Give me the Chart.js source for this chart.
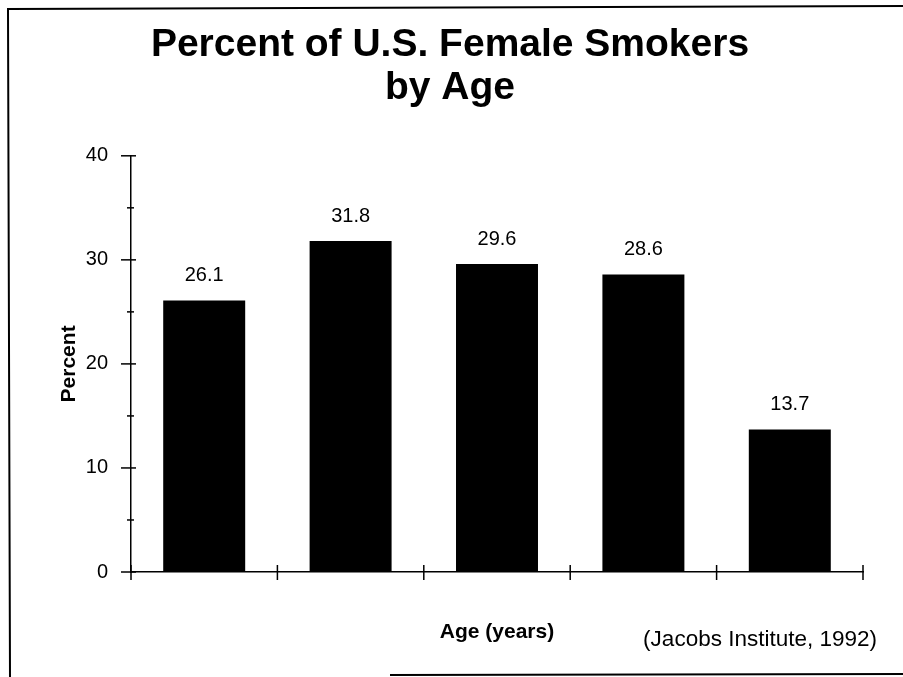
<!DOCTYPE html>
<html>
<head>
<meta charset="utf-8">
<title>Percent of U.S. Female Smokers by Age</title>
<script src="https://cdn.jsdelivr.net/npm/chart.js@4.4.1/dist/chart.umd.min.js"></script>
<style>
    body { margin: 0; background: #fff; }
    #wrap { width: 903px; height: 677px; }
</style>
</head>
<body>
<div id="wrap"><canvas id="myChart" width="903" height="677"></canvas></div>
<script>
const titleLines = ['Percent of U.S. Female Smokers', 'by Age'];
const ageGroups = ['1', '2', '3', '4', '5'];
const percentValues = [26.1, 31.8, 29.6, 28.6, 13.7];
const yMin = 0;
const yMax = 40;
const yStep = 5;
const yLabelStep = 10;
const yTitle = 'Percent';
const xTitle = 'Age (years)';
const sourceNote = '(Jacobs Institute, 1992)';

const FONT = "'Liberation Sans', Arial, Helvetica, sans-serif";

// ticks that cross the axis lines, plus value labels, note and frame
const extrasPlugin = {
    id: 'extras',
    afterDraw(chart) {
        const ctx = chart.ctx;
        const x = chart.scales.x;
        const y = chart.scales.y;
        const area = chart.chartArea;
        ctx.save();
        ctx.strokeStyle = '#000';
        ctx.lineWidth = 1.5;

        // y ticks
        y.ticks.forEach(t => {
            const py = y.getPixelForValue(t.value);
            const major = t.value % yLabelStep === 0;
            ctx.beginPath();
            ctx.moveTo(area.left - (major ? 10 : 4), py);
            ctx.lineTo(area.left + (major ? 5 : 3), py);
            ctx.stroke();
        });

        // x ticks between categories
        const n = ageGroups.length;
        for (let i = 0; i <= n; i++) {
            const px = x.left + i * (x.width / n);
            ctx.beginPath();
            ctx.moveTo(px, area.bottom - 7);
            ctx.lineTo(px, area.bottom + 8);
            ctx.stroke();
        }

        // value labels
        ctx.fillStyle = '#000';
        ctx.font = '20px ' + FONT;
        ctx.textAlign = 'center';
        ctx.textBaseline = 'middle';
        chart.getDatasetMeta(0).data.forEach((bar, i) => {
            ctx.fillText(percentValues[i].toFixed(1), bar.x, bar.y - 25);
        });

        // source note
        ctx.font = '22.5px ' + FONT;
        ctx.textAlign = 'right';
        ctx.fillText(sourceNote, 877, 640);

        // frame
        ctx.lineWidth = 2;
        ctx.beginPath();
        ctx.moveTo(10, 677);
        ctx.lineTo(8, 9);
        ctx.lineTo(903, 6);
        ctx.stroke();
        ctx.beginPath();
        ctx.moveTo(390, 675);
        ctx.lineTo(903, 674);
        ctx.stroke();
        ctx.restore();
    }
};

new Chart(document.getElementById('myChart'), {
    type: 'bar',
    data: {
        labels: ageGroups,
        datasets: [{
            data: percentValues,
            backgroundColor: '#000',
            borderWidth: 0,
            barPercentage: 0.56,
            categoryPercentage: 1
        }]
    },
    options: {
        responsive: false,
        animation: false,
        layout: { padding: { left: 0, right: 3, top: 0, bottom: 0 } },
        plugins: {
            legend: { display: false },
            tooltip: { enabled: false },
            title: {
                display: true,
                text: titleLines,
                color: '#000',
                font: { family: FONT, size: 39, weight: 'bold', lineHeight: 1.1 },
                padding: { top: 24, bottom: 46 }
            }
        },
        scales: {
            x: {
                grid: { display: false, drawTicks: false },
                border: { display: true, color: '#000', width: 1.5 },
                ticks: { display: false },
                title: {
                    display: true,
                    text: xTitle,
                    color: '#000',
                    font: { family: FONT, size: 21, weight: 'bold', lineHeight: 1.2 },
                    padding: { top: 0, bottom: 32 }
                },
                afterFit: s => { s.width = s.width; s.height = 105; }
            },
            y: {
                min: yMin,
                max: yMax,
                grid: { display: false, drawTicks: false },
                border: { display: true, color: '#000', width: 1.5 },
                ticks: {
                    stepSize: yStep,
                    autoSkip: false,
                    padding: 23,
                    color: '#000',
                    font: { family: FONT, size: 20 },
                    callback: v => (v % yLabelStep === 0 ? String(v) : '')
                },
                title: {
                    display: true,
                    text: yTitle,
                    color: '#000',
                    font: { family: FONT, size: 21, weight: 'bold', lineHeight: 1.2 },
                    padding: { top: 57, bottom: 0 }
                },
                afterFit: s => { s.width = 131; }
            },
            // empty strip on the right so the plot ends where the original does
            yRight: {
                position: 'right',
                min: yMin,
                max: yMax,
                grid: { display: false, drawTicks: false },
                border: { display: false },
                ticks: { display: false },
                afterFit: s => { s.width = 37; }
            }
        }
    },
    plugins: [extrasPlugin]
});
</script>
</body>
</html>
